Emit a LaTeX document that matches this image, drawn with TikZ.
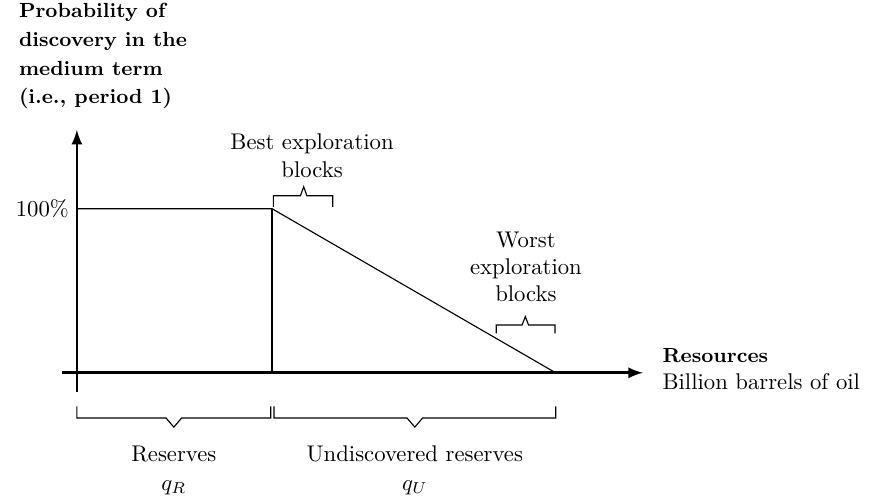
\documentclass[tikz,border=0pt]{standalone}
\usetikzlibrary{positioning}
\tikzstyle{axe}=[->,>=latex,line width=1.2pt]
\tikzstyle{trait}=[line width=0.5pt]
\tikzstyle{accolade}=[line width=0.5pt]
\tikzstyle{titre}=[font=\fontsize{9}{12.6}\selectfont\bfseries,align=left]
\tikzstyle{texte}=[align=center]
\begin{document}
\begin{tikzpicture}
\useasboundingbox (-1.19,-2.03) rectangle (12.29,5.77);
% axes
\coordinate (ybas) at (0,-0.29);
\coordinate (yhaut) at (0,3.76);
\coordinate (xgauche) at (-0.23,0);
\coordinate (xdroite) at (8.76,0);
\draw[axe] (ybas)--(yhaut);
\draw[axe] (xgauche)--(xdroite);
% courbe
\coordinate (A) at (0,2.54);
\coordinate (B) at (3.02,2.54);
\coordinate (C) at (3.02,0);
\coordinate (D) at (7.41,0);
\draw[trait] (A)--(B)--(D);
\draw[trait] (B)--(C);
% accolades
\draw[accolade] (3.04,2.57)--(3.04,2.74)--(3.46,2.74)--(3.51,2.88)--(3.56,2.74)--(3.96,2.74)--(3.96,2.57);
\draw[accolade] (6.49,0.61)--(6.49,0.74)--(6.89,0.74)--(6.94,0.87)--(6.99,0.74)--(7.40,0.74)--(7.40,0.61);
\draw[accolade] (0,-0.52)--(0,-0.70)--(1.38,-0.70)--(1.5,-0.84)--(1.62,-0.70)--(3.0,-0.70)--(3.0,-0.52);
\draw[accolade] (3.05,-0.52)--(3.05,-0.70)--(5.11,-0.70)--(5.23,-0.84)--(5.35,-0.70)--(7.41,-0.70)--(7.41,-0.52);
% textes
\node[titre,anchor=north west] (ordonnee) at (-1.02,5.84) {Probability of\\discovery in the\\medium term\\(i.e., period 1)};
\node[left] (cent) at (A) {100\%};
\node[texte] (meilleurs) at (3.64,3.36) {Best exploration\\blocks};
\node[texte] (pires) at (6.95,1.64) {Worst\\exploration\\blocks};
\node[align=left,right] (ressources) at (8.94,0.06) {\small\textbf{Resources}\\Billion barrels of oil};
\node[texte] (reserves) at (1.5,-1.26) {Reserves};
\node (qR) at (1.5,-1.78) {$q_R$};
\node[texte] (nondecouvertes) at (5.23,-1.26) {Undiscovered reserves};
\node (qU) at (5.23,-1.78) {$q_U$};
\end{tikzpicture}
\end{document}
